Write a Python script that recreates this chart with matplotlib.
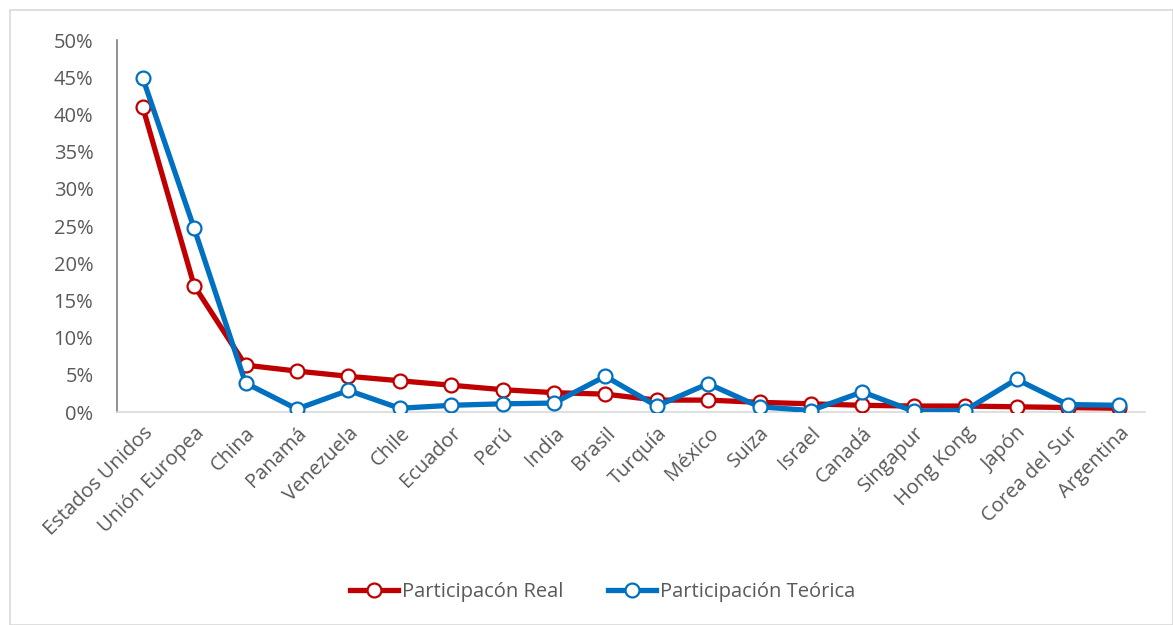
import matplotlib.pyplot as plt
from matplotlib.patches import Rectangle
from matplotlib.ticker import FuncFormatter

plt.rcParams["font.family"] = ["Open Sans", "DejaVu Sans"]

paises = ["Estados Unidos", "Unión Europea", "China", "Panamá", "Venezuela", "Chile",
          "Ecuador", "Perú", "India", "Brasil", "Turquía", "México", "Suiza", "Israel",
          "Canadá", "Singapur", "Hong Kong", "Japón", "Corea del Sur", "Argentina"]

# participation shares, in %
real = [41.0, 17.0, 6.3, 5.5, 4.8, 4.2, 3.6, 3.0, 2.6, 2.4,
        1.6, 1.6, 1.3, 1.1, 0.9, 0.8, 0.8, 0.7, 0.6, 0.5]
teorica = [44.9, 24.7, 3.9, 0.4, 2.9, 0.5, 0.9, 1.1, 1.2, 4.8,
           0.8, 3.8, 0.7, 0.2, 2.7, 0.1, 0.2, 4.4, 1.0, 0.9]

gray = "#595959"
fig = plt.figure(figsize=(11.73, 6.25), dpi=100)
fig.patches.append(Rectangle((10 / 1173, 0), 1 - 10 / 1173, 1 - 10 / 625,
                             transform=fig.transFigure, fill=False,
                             edgecolor="#d9d9d9", linewidth=1.2))
ax = fig.add_axes([117 / 1173, 1 - 412 / 625, (1145 - 117) / 1173, (412 - 40) / 625])

x = list(range(len(paises)))
ax.plot(x, [v / 100 for v in real], color="#c00000", lw=3.8, marker="o", ms=10,
        mfc="white", mec="#c00000", mew=1.6, label="Participacón Real", zorder=3)
ax.plot(x, [v / 100 for v in teorica], color="#0070c0", lw=3.8, marker="o", ms=10,
        mfc="white", mec="#0070c0", mew=1.6, label="Participación Teórica", zorder=4)

ax.set_xlim(-0.5, len(paises) - 0.5)
ax.set_ylim(0, 0.5)
ax.set_yticks([i * 0.05 for i in range(11)])
ax.yaxis.set_major_formatter(FuncFormatter(lambda v, p: f"{round(v * 100)}%"))
ax.set_xticks(x)
ax.set_xticklabels(paises, rotation=45, ha="right", rotation_mode="anchor")
ax.tick_params(axis="both", length=0, labelsize=14.5, labelcolor=gray)
ax.tick_params(axis="y", pad=17)
ax.tick_params(axis="x", pad=8)

for s in ["top", "right"]:
    ax.spines[s].set_visible(False)
ax.spines["left"].set_color("#7f7f7f")
ax.spines["bottom"].set_color("#d9d9d9")
ax.spines["left"].set_linewidth(1.2)
ax.spines["bottom"].set_linewidth(1.2)

fig.legend(loc="center", bbox_to_anchor=(0.514, 1 - 592 / 625), ncol=2, frameon=False,
           fontsize=14.5, labelcolor=gray, handlelength=2.4, handletextpad=0.2,
           columnspacing=2.2)

fig.savefig("out.png", dpi=100)
